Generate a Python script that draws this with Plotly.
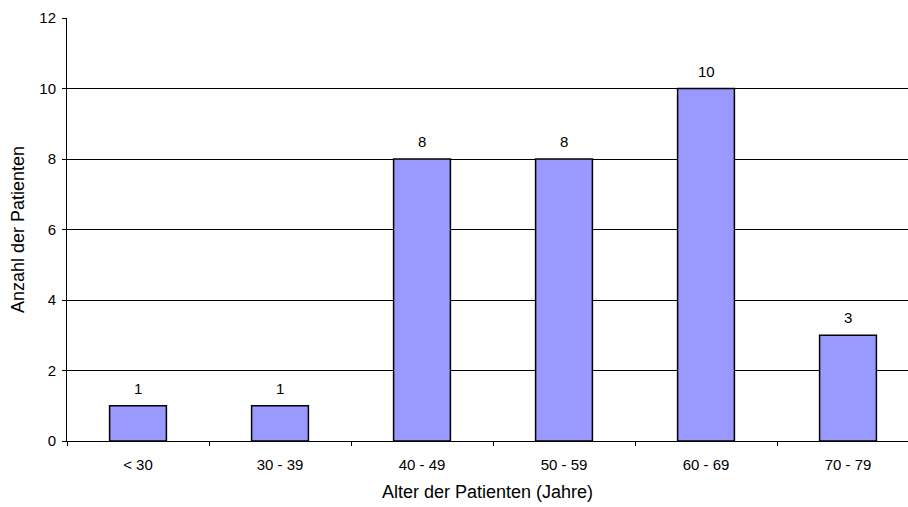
import plotly.graph_objects as go

# Altersverteilung der Patienten
age_groups = ["< 30", "30 - 39", "40 - 49", "50 - 59", "60 - 69", "70 - 79"]
patients = [1, 1, 8, 8, 10, 3]
y_ticks = [0, 2, 4, 6, 8, 10, 12]

FONT = "Liberation Sans, Arial, sans-serif"

fig = go.Figure()
fig.add_trace(go.Bar(
    x=age_groups,
    y=patients,
    width=0.4,
    marker=dict(color="#9999FF", line=dict(color="black", width=1.5)),
    hoverinfo="x+y",
))

# value labels above each bar
for g, v in zip(age_groups, patients):
    fig.add_annotation(
        x=g, y=v, text=str(v), showarrow=False,
        yanchor="bottom", yshift=7,
        font=dict(family=FONT, size=15, color="black"),
    )

fig.update_layout(
    width=908, height=507,
    margin=dict(l=67, r=0, t=18, b=66),
    paper_bgcolor="white", plot_bgcolor="white",
    font=dict(family=FONT, color="black"),
    showlegend=False,
    bargap=0.6,
)

fig.update_xaxes(
    type="category",
    range=[-0.5, 5.4225],
    tickson="boundaries",
    ticks="outside", ticklen=4, tickcolor="black", tickwidth=1,
    ticklabelstandoff=10,
    showline=True, linecolor="black", linewidth=1,
    showgrid=False,
    tickfont=dict(family=FONT, size=15, color="black"),
    title=dict(text="Alter der Patienten (Jahre)",
               font=dict(family=FONT, size=18, color="black"),
               standoff=13),
)

fig.update_yaxes(
    range=[0, 12],
    tickvals=y_ticks,
    ticks="outside", ticklen=4, tickcolor="black", tickwidth=1,
    ticklabelstandoff=3,
    showline=True, linecolor="black", linewidth=1,
    showgrid=True, gridcolor="black", gridwidth=1,
    zeroline=False,
    tickfont=dict(family=FONT, size=15, color="black"),
    title=dict(text="Anzahl der Patienten",
               font=dict(family=FONT, size=18, color="black"),
               standoff=10),
)

fig.write_html("out.html")
